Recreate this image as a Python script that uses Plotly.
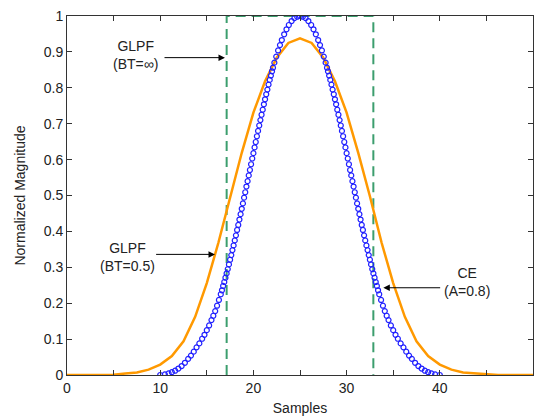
import plotly.graph_objects as go

# GLPF (BT=0.5) - orange
glpf_x = [0, 1.25, 2.5, 3.75, 5, 6.25, 7.5, 8.75, 10, 11.25, 12.5, 13.75, 15, 16.25, 17.5, 18.75,
          20, 21.25, 22.5, 23.75, 25, 26.25, 27.5, 28.75, 30, 31.25, 32.5, 33.75, 35, 36.25,
          37.5, 38.75, 40, 41.25, 42.5, 43.75, 45, 46.25, 47.5, 48.75, 50]
glpf_y = [0, 0, 0, 0, 0.001, 0.004, 0.007, 0.015, 0.029, 0.053, 0.094, 0.162, 0.256, 0.369, 0.498, 0.619,
          0.731, 0.818, 0.884, 0.925, 0.938, 0.925, 0.884, 0.818, 0.731, 0.619, 0.498, 0.369, 0.256, 0.162,
          0.094, 0.053, 0.029, 0.015, 0.007, 0.004, 0.001, 0, 0, 0, 0]

# GLPF (BT=inf) - ideal rectangle, green dashed
rect_x = [17.13, 17.13, 32.87, 32.87]
rect_y = [0, 1, 1, 0]

# CE (A=0.8) - blue circles
ce_x = [10.0, 10.5, 10.9, 11.25, 11.6, 11.95, 12.3, 12.65, 13.0, 13.3, 13.6, 13.9, 14.2, 14.5, 14.75,
        15.0, 15.25, 15.5, 15.7, 15.9, 16.1, 16.3, 16.5, 16.625, 16.75, 16.875, 17.0, 17.125, 17.25,
        17.375, 17.5, 17.625, 17.75, 17.875, 18.0, 18.125, 18.25, 18.375, 18.5, 18.625, 18.75, 18.875,
        19.0, 19.125, 19.25, 19.375, 19.5, 19.625, 19.75, 19.875, 20.0, 20.125, 20.25, 20.375, 20.5,
        20.625, 20.75, 20.875, 21.0, 21.125, 21.25, 21.375, 21.5, 21.625, 21.75, 21.875, 22.0, 22.1,
        22.25, 22.45, 22.65, 22.85, 23.05, 23.3, 23.55, 23.8, 24.1, 24.4, 24.7,
        25.0,
        25.3, 25.6, 25.9, 26.2, 26.45, 26.7, 26.95, 27.15, 27.35, 27.55, 27.75, 27.9, 28.0, 28.125,
        28.25, 28.375, 28.5, 28.625, 28.75, 28.875, 29.0, 29.125, 29.25, 29.375, 29.5, 29.625, 29.75,
        29.875, 30.0, 30.125, 30.25, 30.375, 30.5, 30.625, 30.75, 30.875, 31.0, 31.125, 31.25, 31.375,
        31.5, 31.625, 31.75, 31.875, 32.0, 32.125, 32.25, 32.375, 32.5, 32.625, 32.75, 32.875, 33.0,
        33.125, 33.25, 33.375, 33.5, 33.7, 33.9, 34.1, 34.3, 34.5, 34.75, 35.0, 35.25, 35.5, 35.8,
        36.1, 36.4, 36.7, 37.0, 37.35, 37.7, 38.05, 38.4, 38.75, 39.1, 39.5, 40.0]
ce_y = [0.0, 0.0015, 0.0045, 0.008, 0.012, 0.018, 0.025, 0.034, 0.045, 0.054, 0.065, 0.077, 0.088, 0.101, 0.112,
        0.125, 0.138, 0.153, 0.165, 0.178, 0.193, 0.209, 0.225, 0.236, 0.248, 0.259, 0.271, 0.283, 0.295,
        0.308, 0.321, 0.334, 0.348, 0.361, 0.375, 0.389, 0.404, 0.418, 0.433, 0.448, 0.463, 0.478,
        0.494, 0.509, 0.525, 0.540, 0.556, 0.571, 0.587, 0.603, 0.618, 0.634, 0.649, 0.665, 0.680,
        0.695, 0.710, 0.725, 0.739, 0.754, 0.768, 0.782, 0.795, 0.809, 0.822, 0.834, 0.846, 0.856,
        0.870, 0.887, 0.904, 0.919, 0.933, 0.949, 0.963, 0.975, 0.986, 0.994, 0.998,
        1.0,
        0.998, 0.994, 0.986, 0.975, 0.963, 0.949, 0.933, 0.919, 0.904, 0.887, 0.870, 0.856, 0.846, 0.834,
        0.822, 0.809, 0.795, 0.782, 0.768, 0.754, 0.739, 0.725, 0.710, 0.695, 0.680, 0.665, 0.649,
        0.634, 0.618, 0.603, 0.587, 0.571, 0.556, 0.540, 0.525, 0.509, 0.494, 0.478, 0.463, 0.448,
        0.433, 0.418, 0.404, 0.389, 0.375, 0.361, 0.348, 0.334, 0.321, 0.308, 0.295, 0.283, 0.271,
        0.259, 0.248, 0.236, 0.225, 0.209, 0.193, 0.178, 0.165, 0.153, 0.138, 0.125, 0.112, 0.101, 0.088,
        0.077, 0.065, 0.054, 0.045, 0.034, 0.025, 0.018, 0.012, 0.008, 0.0045, 0.0015, 0.0]

x_tickvals = [0, 5, 10, 15, 20, 25, 30, 35, 40, 45, 50]
x_ticktext = ["0", "", "10", "", "20", "", "30", "", "40", "", "50"]
y_tickvals = [0, 0.1, 0.2, 0.3, 0.4, 0.5, 0.6, 0.7, 0.8, 0.9, 1]
y_ticktext = ["0", "0.1", "0.2", "0.3", "0.4", "0.5", "0.6", "0.7", "0.8", "0.9", "1"]

# annotations: (text, text_x, text_y, arrow_tail_x, arrow_tail_y, tip_x, tip_y)
labels = [
    ("GLPF<br>(BT=∞)", 7.3, 0.89, 10.3, 0.884, 16.95, 0.884),
    ("GLPF<br>(BT=0.5)", 6.45, 0.33, 9.4, 0.336, 15.88, 0.336),
    ("CE<br>(A=0.8)", 42.9, 0.26, 40.2, 0.243, 33.94, 0.243),
]

FONT = "Liberation Sans, Arial, sans-serif"

fig = go.Figure()
fig.add_trace(go.Scatter(x=rect_x, y=rect_y, mode="lines",
                         line=dict(color="#3c9e6e", width=2, dash="10px,6px"), hoverinfo="skip"))
fig.add_trace(go.Scatter(x=glpf_x, y=glpf_y, mode="lines",
                         line=dict(color="#ff9900", width=2.5), hoverinfo="skip"))
fig.add_trace(go.Scatter(x=ce_x, y=ce_y, mode="markers",
                         marker=dict(symbol="circle-open", size=5, color="#2020ff",
                                     line=dict(width=1.2, color="#2020ff")), hoverinfo="skip"))

for text, tx, ty, ax0, ay0, px, py in labels:
    fig.add_annotation(x=tx, y=ty, xref="x", yref="y", text=text, showarrow=False,
                       font=dict(family=FONT, size=14, color="#222"), align="center")
    fig.add_annotation(x=px, y=py, ax=ax0, ay=ay0, xref="x", yref="y", axref="x", ayref="y",
                       text="", showarrow=True, arrowhead=2, arrowsize=1.3, arrowwidth=1,
                       arrowcolor="black")

axis_common = dict(showgrid=False, zeroline=False, showline=True, linecolor="#333", linewidth=1,
                   mirror="ticks", ticks="inside", ticklen=5, tickcolor="#333",
                   tickfont=dict(family=FONT, size=14, color="#222"))

fig.update_xaxes(range=[0, 50], tickvals=x_tickvals, ticktext=x_ticktext,
                 title=dict(text="Samples", font=dict(family=FONT, size=14, color="#222"), standoff=8),
                 **axis_common)
fig.update_yaxes(range=[0, 1], tickvals=y_tickvals, ticktext=y_ticktext,
                 title=dict(text="Normalized Magnitude", font=dict(family=FONT, size=14, color="#222"), standoff=14),
                 **axis_common)

fig.update_layout(width=538, height=420, margin=dict(l=67, r=5, t=16, b=45),
                  paper_bgcolor="white", plot_bgcolor="white", showlegend=False)

fig.write_html("out.html")
